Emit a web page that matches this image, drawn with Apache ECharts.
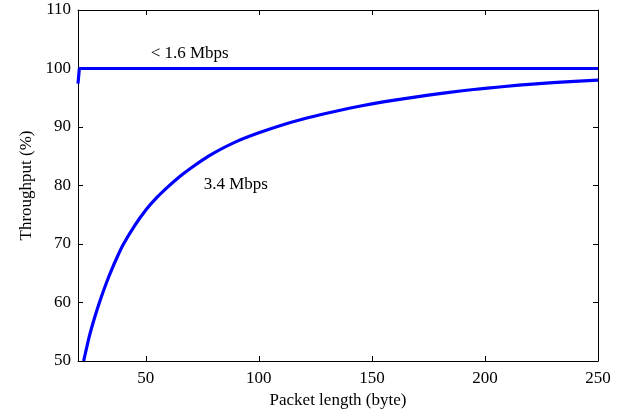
<!DOCTYPE html>
<html>
<head>
<meta charset="utf-8">
<script src="https://cdn.jsdelivr.net/npm/echarts@6/dist/echarts.min.js"></script>
<style>html,body{margin:0;padding:0;background:#fff}#c{width:626px;height:415px}</style>
</head>
<body>
<div id="c"></div>
<script>
// Data
const lowRateX = [20, 20.6, 250];
const lowRateY = [97.4, 100, 100];
const highRateX = [22.5, 25, 27.5, 30, 32.5, 35, 37.5, 40, 45, 50, 55, 60, 65, 70, 75, 80, 90, 100, 110, 120, 130, 140, 150, 160, 175, 190, 200, 215, 230, 250];
const highRateY = [50, 54.2, 57.6, 60.6, 63.3, 65.7, 67.9, 69.9, 73.1, 75.8, 78.0, 79.85, 81.55, 83.0, 84.35, 85.55, 87.5, 89.0, 90.3, 91.4, 92.35, 93.2, 93.95, 94.6, 95.45, 96.2, 96.6, 97.15, 97.6, 98.0];
// x-axis grid steps (every 10 from 20 to 250); ticks/labels only at xTicks
const xSteps = [20, 30, 40, 50, 60, 70, 80, 90, 100, 110, 120, 130, 140, 150, 160, 170, 180, 190, 200, 210, 220, 230, 240, 250];
const xTicks = [50, 100, 150, 200, 250];
const yTicks = [50, 60, 70, 80, 90, 100, 110];
const labelLow = '< 1.6 Mbps';
const labelHigh = '3.4 Mbps';
const labelLowAt = [69.4, 102.5];
const labelHighAt = [89.8, 80.1];

const FONT = 'Liberation Serif';
const chart = echarts.init(document.getElementById('c'), null, {renderer: 'canvas'});
const zip = (xs, ys) => xs.map((x, i) => [x, ys[i]]);
const isTick = (i, v) => xTicks.indexOf(Number(v)) >= 0;
const tickStyle = {show: true, inside: true, length: 5, lineStyle: {color: '#000', width: 1}};
const lineStyleAxis = {show: true, onZero: false, lineStyle: {color: '#000', width: 1}};
chart.setOption({
  animation: false,
  backgroundColor: '#fff',
  grid: {left: 78, right: 28, top: 10, bottom: 54, containLabel: false},
  xAxis: [
    {
      // data axis (hidden), carries the value scale
      type: 'value', min: 20, max: 250, position: 'bottom', show: false
    },
    {
      type: 'category', data: xSteps.map(String), boundaryGap: false, position: 'bottom',
      axisLine: lineStyleAxis, splitLine: {show: false},
      axisTick: Object.assign({}, tickStyle, {interval: isTick}),
      axisLabel: {interval: isTick, color: '#000', fontFamily: FONT, fontSize: 17, margin: 9},
      name: 'Packet length (byte)', nameLocation: 'middle', nameGap: 31,
      nameTextStyle: {color: '#000', fontFamily: FONT, fontSize: 17}
    },
    {
      type: 'category', data: xSteps.map(String), boundaryGap: false, position: 'top',
      axisLine: lineStyleAxis, splitLine: {show: false},
      axisTick: Object.assign({}, tickStyle, {interval: isTick}),
      axisLabel: {show: false}
    }
  ],
  yAxis: [
    {
      type: 'value', min: 50, max: 110, interval: 10, position: 'left',
      axisLine: lineStyleAxis, splitLine: {show: false},
      axisTick: tickStyle,
      axisLabel: {color: '#000', fontFamily: FONT, fontSize: 17, margin: 7},
      name: 'Throughput (%)', nameLocation: 'middle', nameGap: 38,
      nameTextStyle: {color: '#000', fontFamily: FONT, fontSize: 17}
    },
    {
      type: 'value', min: 50, max: 110, interval: 10, position: 'right',
      axisLine: lineStyleAxis, splitLine: {show: false},
      axisTick: tickStyle,
      axisLabel: {show: false}
    }
  ],
  series: [
    {
      type: 'line', xAxisIndex: 0, yAxisIndex: 0,
      data: zip(lowRateX, lowRateY), showSymbol: false, symbol: 'none',
      lineStyle: {color: '#0000ff', width: 3.2}, z: 3,
      markPoint: {
        symbol: 'circle', symbolSize: 0, silent: true,
        label: {show: true, formatter: labelLow, color: '#000', fontFamily: FONT, fontSize: 17, position: 'inside'},
        data: [{coord: labelLowAt}]
      }
    },
    {
      type: 'line', xAxisIndex: 0, yAxisIndex: 0,
      data: zip(highRateX, highRateY), showSymbol: false, symbol: 'none',
      smooth: 0.2,
      lineStyle: {color: '#0000ff', width: 3.2}, z: 3,
      markPoint: {
        symbol: 'circle', symbolSize: 0, silent: true,
        label: {show: true, formatter: labelHigh, color: '#000', fontFamily: FONT, fontSize: 17, position: 'inside'},
        data: [{coord: labelHighAt}]
      }
    }
  ]
});
</script>
</body>
</html>
